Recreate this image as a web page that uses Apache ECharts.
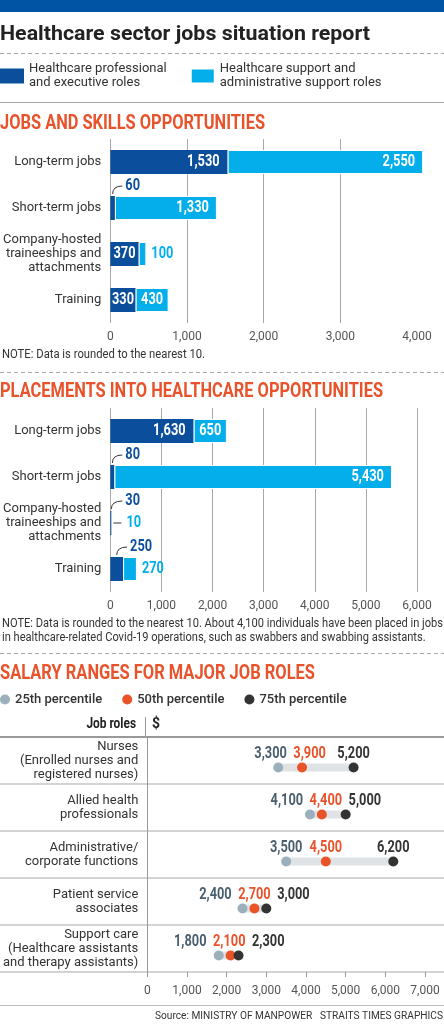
<!DOCTYPE html>
<html>
<head>
<meta charset="utf-8">
<script src="https://cdn.jsdelivr.net/npm/echarts@6/dist/echarts.min.js"></script>
<style>
html, body { margin: 0; padding: 0; background: #fff; }
#chart { width: 444px; height: 1024px; }
</style>
</head>
<body>
<div id="chart"></div>
<script>
var jobCategories = ['Long-term jobs', 'Short-term jobs', 'Company-hosted\ntraineeships and\nattachments', 'Training'];
var jobsProfessional = [1530, 60, 370, 330];
var jobsSupport = [2550, 1330, 100, 430];
var placementsProfessional = [1630, 80, 30, 250];
var placementsSupport = [650, 5430, 10, 270];

var roles = ['Nurses\n(Enrolled nurses and\nregistered nurses)', 'Allied health\nprofessionals',
  'Administrative/\ncorporate functions', 'Patient service\nassociates',
  'Support care\n(Healthcare assistants\nand therapy assistants)'];
var salary25 = [3300, 4100, 3500, 2400, 1800];
var salary50 = [3900, 4400, 4500, 2700, 2100];
var salary75 = [5200, 5000, 6200, 3000, 2300];

var PROF = 'Healthcare professional\nand executive roles';
var SUPP = 'Healthcare support and\nadministrative support roles';
var DARK = '#0b4f9c', LIGHT = '#03aeeb', ORANGE = '#e8532b';
var FONT = 'Roboto, "Noto Sans", sans-serif';
// numbers are set in a condensed look: bold type squeezed horizontally
var NUM_FONT = 'bold 16px ' + FONT, NUM_SCALE = 0.8;
var BAR_H = 24, DOT_SHIFT = 7;

var myChart = echarts.init(document.getElementById('chart'));
var measureCtx = document.createElement('canvas').getContext('2d');

function textWidth(text, font) {
  measureCtx.font = font;
  return measureCtx.measureText(text).width;
}
function numWidth(text) { return textWidth(text, NUM_FONT) * NUM_SCALE; }
function fmt(v) { return echarts.format.addCommas(v); }

function textEl(text, x, y, font, color, scale, align) {
  return {
    type: 'text', x: x, y: y, scaleX: scale || 1, silent: true, z: 10,
    style: { text: text, font: font, fill: color, align: align || 'left', textAlign: align || 'left',
      verticalAlign: 'middle', textVerticalAlign: 'middle' }
  };
}
function numEl(text, x, y, color, align) {
  var el = textEl(text, x, y, NUM_FONT, color, NUM_SCALE, align);
  el.z = undefined;
  return el;
}
function fitScale(text, font, width) { return width / textWidth(text, font); }
function hline(y, x1, x2, color, width, dashed) {
  return { type: 'line', silent: true, z: 10, shape: { x1: x1, y1: y, x2: x2, y2: y },
    style: { stroke: color, lineWidth: width, lineDash: dashed ? [4, 3] : null } };
}

// labels for the stacked bars, inside when they fit, outside with a leader otherwise
function barLabels(idx, prof, supp) {
  return {
    type: 'custom', xAxisIndex: idx, yAxisIndex: idx, silent: true, z: 5, clip: false,
    encode: { y: 0, x: 1 },
    data: prof.map(function (v, i) { return [i, v, supp[i]]; }),
    renderItem: function (params, api) {
      var i = api.value(0), a = api.value(1), b = api.value(2);
      var p0 = api.coord([0, i]), p1 = api.coord([a, i]), p2 = api.coord([a + b, i]);
      var yc = p0[1], top = yc - BAR_H / 2;
      var kids = [];
      var ta = fmt(a), tb = fmt(b);
      var wa = numWidth(ta), wb = numWidth(tb);
      var sa = p1[0] - p0[0], sb = p2[0] - p1[0];
      if (sa >= wa + 2) {
        kids.push(numEl(ta, p1[0] - Math.min(8, (sa - wa) / 2), yc, '#fff', 'right'));
      } else {
        var lx = Math.max(p1[0] + 7, p0[0] + 15), ly = top - 10;
        var sx = p0[0] + Math.max(1, sa / 2);
        kids.push({ type: 'bezierCurve', shape: { x1: sx, y1: top - 2, x2: lx - 3, y2: ly, cpx1: sx, cpy1: ly },
          style: { stroke: '#333', lineWidth: 1, fill: null } });
        kids.push(numEl(ta, lx, ly, DARK, 'left'));
      }
      if (sb >= wb + 2) {
        kids.push(numEl(tb, p2[0] - Math.min(8, (sb - wb) / 2), yc, '#fff', 'right'));
      } else if (sb < 3) {
        kids.push({ type: 'line', shape: { x1: p2[0] + 1, y1: yc, x2: p2[0] + 9, y2: yc },
          style: { stroke: '#333', lineWidth: 1 } });
        kids.push(numEl(tb, p2[0] + 14, yc, LIGHT, 'left'));
      } else {
        kids.push(numEl(tb, p2[0] + 5, yc, LIGHT, 'left'));
      }
      return { type: 'group', children: kids };
    }
  };
}

function barSeries(idx, prof, supp) {
  return [
    { type: 'bar', name: PROF, xAxisIndex: idx, yAxisIndex: idx, stack: 's' + idx, data: prof,
      barWidth: BAR_H, clip: false, itemStyle: { color: DARK } },
    { type: 'bar', name: SUPP, xAxisIndex: idx, yAxisIndex: idx, stack: 's' + idx, data: supp,
      barWidth: BAR_H, clip: false, itemStyle: { color: LIGHT, borderColor: '#fff', borderWidth: 1 } },
    barLabels(idx, prof, supp)
  ];
}

function barX(idx, max, hideMax) {
  return {
    gridIndex: idx, type: 'value', min: 0, max: max, interval: 1000,
    axisLine: { show: false }, axisTick: { show: false },
    splitLine: { show: true, showMaxLine: !hideMax, lineStyle: { color: '#a8a8a8', width: 1 } },
    axisLabel: { color: '#555', fontSize: 12, margin: 8, formatter: fmt }
  };
}
function barY(idx) {
  return {
    gridIndex: idx, type: 'category', data: jobCategories, inverse: true,
    axisLine: { show: false }, axisTick: { show: false }, splitLine: { show: false },
    axisLabel: { color: '#333', fontSize: 13, lineHeight: 14, margin: 9, interval: 0 }
  };
}

// salary grid geometry
var SAL_LEFT = 145, SAL_WIDTH = 280, SAL_MAX = 7000;
var pxPer = SAL_WIDTH / SAL_MAX;

// push the three value labels of a row apart so they do not collide
function spread(vals, gap) {
  var c = vals.slice();
  for (var it = 0; it < 80; it++) {
    for (var k = 0; k < c.length - 1; k++) {
      var d = c[k + 1] - c[k];
      if (d < gap) { var m = (gap - d) / 2; c[k] -= m; c[k + 1] += m; }
    }
  }
  return c;
}

function dotSeries(name, vals, dotColor) {
  return {
    type: 'scatter', name: name, xAxisIndex: 2, yAxisIndex: 2, z: 4,
    symbol: 'circle', symbolSize: 10, symbolOffset: [0, DOT_SHIFT],
    itemStyle: { color: dotColor, opacity: 1 },
    data: vals.map(function (v, i) { return [v, i]; })
  };
}

var rangeSeries = {
  type: 'custom', xAxisIndex: 2, yAxisIndex: 2, silent: true, z: 3,
  encode: { y: 0, x: [1, 2] },
  data: salary25.map(function (v, i) { return [i, v, salary75[i]]; }),
  renderItem: function (params, api) {
    var i = api.value(0);
    var a = api.coord([api.value(1), i]), b = api.coord([api.value(2), i]);
    return { type: 'rect', shape: { x: a[0], y: a[1] + DOT_SHIFT - 4, width: b[0] - a[0], height: 8 },
      style: { fill: '#dfe3e5' } };
  }
};

var salaryTextColors = ['#4a5f6e', ORANGE, '#333'];
var salaryLabelSeries = {
  type: 'custom', xAxisIndex: 2, yAxisIndex: 2, silent: true, z: 5, clip: false,
  encode: { y: 0, x: [1, 2, 3] },
  data: salary25.map(function (v, i) { return [i, v, salary50[i], salary75[i]]; }),
  renderItem: function (params, api) {
    var i = api.value(0);
    var pts = [1, 2, 3].map(function (d) { return api.coord([api.value(d), i]); });
    var cx = spread(pts.map(function (p) { return p[0]; }), 39);
    return { type: 'group', children: pts.map(function (p, k) {
      return numEl(fmt(api.value(k + 1)), cx[k], p[1] + DOT_SHIFT - 14, salaryTextColors[k], 'center');
    }) };
  }
};

var titleFont = 'bold 21px ' + FONT;
var secFont = 'bold 20px ' + FONT;
var noteFont = '12px ' + FONT;
var note2a = 'NOTE: Data is rounded to the nearest 10. About 4,100 individuals have been placed in jobs';
var note2b = 'in healthcare-related Covid-19 operations, such as swabbers and swabbing assistants.';
var note2Scale = fitScale(note2a, noteFont, 441);
var sourceText = 'Source: MINISTRY OF MANPOWER   STRAITS TIMES GRAPHICS';

var graphics = [
  { type: 'rect', silent: true, shape: { x: 0, y: 0, width: 444, height: 12 }, style: { fill: '#0054a3' } },
  textEl('Healthcare sector jobs situation report', 0, 35, titleFont, '#222',
    fitScale('Healthcare sector jobs situation report', titleFont, 370)),
  hline(53.5, 0, 444, '#aaa', 1, true),
  hline(102.5, 0, 444, '#aaa', 1, false),
  textEl('JOBS AND SKILLS OPPORTUNITIES', 0, 124, secFont, ORANGE,
    fitScale('JOBS AND SKILLS OPPORTUNITIES', secFont, 265)),
  textEl('NOTE: Data is rounded to the nearest 10.', 2, 355, noteFont, '#333',
    fitScale('NOTE: Data is rounded to the nearest 10.', noteFont, 203)),
  hline(372.5, 0, 444, '#aaa', 1, true),
  textEl('PLACEMENTS INTO HEALTHCARE OPPORTUNITIES', 0, 392, secFont, ORANGE,
    fitScale('PLACEMENTS INTO HEALTHCARE OPPORTUNITIES', secFont, 383)),
  textEl(note2a, 2, 624, noteFont, '#333', note2Scale),
  textEl(note2b, 2, 638, noteFont, '#333', note2Scale),
  hline(653.5, 0, 444, '#aaa', 1, true),
  textEl('SALARY RANGES FOR MAJOR JOB ROLES', 0, 674, secFont, ORANGE,
    fitScale('SALARY RANGES FOR MAJOR JOB ROLES', secFont, 315)),
  textEl('Job roles', 136, 724, 'bold 14px ' + FONT, '#222', 0.85, 'right'),
  textEl('$', 152, 724, 'bold 14px ' + FONT, '#222', 1, 'left'),
  { type: 'line', silent: true, z: 10, shape: { x1: 145.5, y1: 717, x2: 145.5, y2: 737 }, style: { stroke: '#999', lineWidth: 1 } },
  hline(737, 0, 444, '#999', 2, false),
  hline(1005.5, 0, 444, '#bbb', 1, false),
  textEl(sourceText, 443, 1016, '11px ' + FONT, '#333', fitScale(sourceText, '11px ' + FONT, 288), 'right')
];

var option = {
  animation: false,
  textStyle: { fontFamily: FONT },
  legend: [
    { data: [PROF, SUPP], left: 0, top: 62, padding: 0, icon: 'rect', itemWidth: 24, itemHeight: 15,
      itemGap: 23, selectedMode: false, textStyle: { fontSize: 13, lineHeight: 14, color: '#333' } },
    { data: ['25th percentile', '50th percentile', '75th percentile'], left: 0, top: 693, padding: 0,
      icon: 'circle', itemWidth: 10, itemHeight: 10, itemGap: 20, selectedMode: false,
      textStyle: { fontSize: 13, fontWeight: 500, color: '#333' } }
  ],
  grid: [
    { left: 107, width: 310, top: 139, height: 184 },
    { left: 107, width: 310, top: 408, height: 184 },
    { left: SAL_LEFT, width: SAL_WIDTH, top: 737, height: 235 },
    { left: 0, width: 444, top: 737, height: 235 }
  ],
  xAxis: [
    barX(0, 4000, true),
    barX(1, 6000, false),
    { gridIndex: 2, type: 'value', min: 0, max: SAL_MAX, interval: 1000,
      axisLine: { show: false }, splitLine: { show: false },
      axisTick: { show: true, length: 5, lineStyle: { color: '#999' } },
      axisLabel: { color: '#555', fontSize: 12, margin: 13, formatter: fmt } },
    { gridIndex: 3, type: 'value', show: false }
  ],
  yAxis: [
    barY(0),
    barY(1),
    { gridIndex: 2, type: 'category', data: roles, inverse: true,
      axisLine: { show: true, lineStyle: { color: '#999', width: 1 } }, axisTick: { show: false },
      splitLine: { show: false },
      axisLabel: { color: '#333', fontSize: 13, lineHeight: 14, margin: 9, interval: 0 } },
    { gridIndex: 3, type: 'category', data: roles, inverse: true,
      axisLine: { show: false }, axisTick: { show: false }, axisLabel: { show: false },
      splitLine: { show: true, interval: 0, lineStyle: { color: '#c4c4c4', width: 1.5 } } }
  ],
  series: [].concat(
    barSeries(0, jobsProfessional, jobsSupport),
    barSeries(1, placementsProfessional, placementsSupport),
    [rangeSeries,
     dotSeries('25th percentile', salary25, '#9bb0bc'),
     dotSeries('50th percentile', salary50, '#ea5228'),
     dotSeries('75th percentile', salary75, '#333'),
     salaryLabelSeries]
  ),
  graphic: graphics
};

myChart.setOption(option);

window.onresize = function () {
  myChart.resize();
};
</script>
</body>
</html>
